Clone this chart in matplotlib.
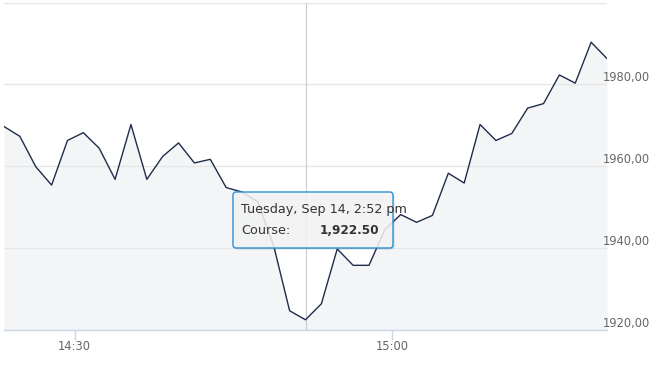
import matplotlib
matplotlib.use("Agg")
import matplotlib.dates as mdates
import matplotlib.pyplot as plt
import matplotlib.ticker as mticker
from matplotlib.patches import FancyBboxPatch
from matplotlib.transforms import IdentityTransform
import pandas as pd

# course values, one every 90 seconds
course = [
    1969.7, 1967.3, 1959.9, 1955.4, 1966.3, 1968.2, 1964.4, 1956.8, 1970.2, 1956.8,
    1962.4, 1965.7, 1960.8, 1961.7, 1954.8, 1953.7, 1951.3, 1940.5, 1924.7, 1922.5,
    1926.4, 1939.8, 1935.8, 1935.8, 1944.5, 1948.2, 1946.3, 1948.0, 1958.3, 1955.9,
    1970.2, 1966.3, 1968.0, 1974.2, 1975.3, 1982.3, 1980.3, 1990.3, 1986.3,
]
start_time = "2021-09-14 14:23:20"
step = "90s"
x_ticks = ["2021-09-14 14:30", "2021-09-14 15:00"]
y_ticks = [1920, 1940, 1960, 1980, 2000]
hover_idx = 19
tooltip_title = "Tuesday, Sep 14, 2:52 pm"
series_name = "Course"

times = pd.date_range(start_time, periods=len(course), freq=step)

W, H = 663, 365
fig = plt.figure(figsize=(W / 100, H / 100), dpi=100)
ax = fig.add_axes([4 / W, 35 / H, 603 / W, 327.5 / H])

ax.fill_between(times, course, y_ticks[0], color="#f4f5f7", lw=0, zorder=0.4)
ax.plot(times, course, color="#1f2d4a", lw=1.0, zorder=3)
ax.axvline(times[hover_idx], color="#cccccc", lw=0.8, zorder=2)

ax.set_xlim(times[0], times[-1])
ax.set_ylim(y_ticks[0], y_ticks[-1])

# y axis on the right, comma decimals, top label hidden
ax.yaxis.tick_right()
ax.set_yticks(y_ticks)
ax.yaxis.set_major_formatter(
    mticker.FuncFormatter(lambda v, _: "" if v >= y_ticks[-1] else f"{v:.2f}".replace(".", ","))
)
ax.tick_params(axis="y", length=0, pad=-3, labelsize=8.3, labelcolor="#666666")
for lab in ax.get_yticklabels():
    lab.set_va("bottom")

ax.set_xticks(pd.to_datetime(x_ticks))
ax.xaxis.set_major_formatter(mdates.DateFormatter("%H:%M"))
ax.tick_params(axis="x", length=7, width=1, color="#ccd6eb", pad=0,
               labelsize=8.3, labelcolor="#666666")

ax.set_axisbelow(True)
ax.grid(axis="y", color="#e6e6e6", lw=1)
for side in ["top", "left", "right"]:
    ax.spines[side].set_visible(False)
ax.spines["bottom"].set_color("#ccd6eb")
ax.spines["bottom"].set_linewidth(1)

# tooltip box (pixel coordinates)
bx, by, bw, bh = 233, H - 248, 160, 56
shadow = FancyBboxPatch((bx + 1.5, by - 1.5), bw, bh, boxstyle="round,pad=0,rounding_size=3",
                        transform=IdentityTransform(), facecolor="black", alpha=0.12,
                        lw=0, zorder=5)
box = FancyBboxPatch((bx, by), bw, bh, boxstyle="round,pad=0,rounding_size=3",
                     transform=IdentityTransform(), facecolor=(0.97, 0.97, 0.97, 0.85),
                     edgecolor="#2b8fd6", lw=1, zorder=6)
fig.add_artist(shadow)
fig.add_artist(box)
fig.text(241 / W, (H - 210) / H, tooltip_title, va="center", ha="left",
         fontsize=9.2, color="#333333", zorder=7)
fig.text(241 / W, (H - 230.5) / H, f"{series_name}:", va="center", ha="left",
         fontsize=9.2, color="#333333", zorder=7)
fig.text(320 / W, (H - 230.5) / H, f"{course[hover_idx]:,.2f}", va="center", ha="left",
         fontsize=8.7, fontweight="bold", color="#333333", zorder=7)

fig.savefig("out.png", dpi=100)
